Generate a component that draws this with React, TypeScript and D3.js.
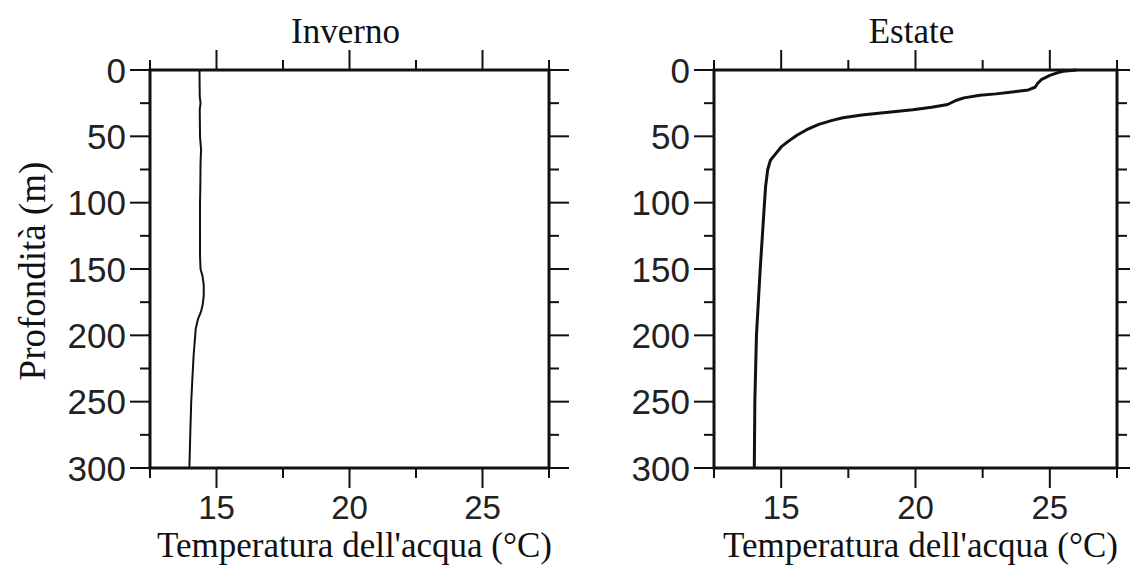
import React from "react";
import * as d3 from "d3";

// ── Data ──────────────────────────────────────────────────────────────────────

const winterDepth = [0, 20, 25, 30, 50, 60, 70, 90, 100, 120, 140, 150, 155, 162, 170, 177, 182, 188, 195, 205, 215, 230, 250, 270, 300];
const winterTemp = [14.36, 14.37, 14.4, 14.37, 14.38, 14.42, 14.4, 14.39, 14.38, 14.38, 14.38, 14.4, 14.47, 14.52, 14.52, 14.48, 14.42, 14.3, 14.22, 14.18, 14.14, 14.1, 14.05, 14.02, 13.98];

const summerDepth = [0, 1, 2, 4, 7, 10, 13, 15, 16.5, 18, 19, 21, 23, 26, 28, 30, 32, 34, 36, 38, 41, 45, 49, 54, 58, 63, 68, 75, 88, 100, 125, 150, 175, 200, 250, 300];
const summerTemp = [26.0, 25.5, 25.3, 25.0, 24.7, 24.55, 24.45, 24.2, 23.6, 23.0, 22.4, 21.8, 21.5, 21.2, 20.6, 19.9, 18.9, 18.0, 17.3, 16.9, 16.4, 15.95, 15.6, 15.25, 15.0, 14.8, 14.6, 14.5, 14.42, 14.38, 14.3, 14.22, 14.15, 14.08, 14.02, 14.0];

const panelTitles = ["Inverno", "Estate"];
const tempMajor = [15, 20, 25];
const tempMinor = [12.5, 17.5, 22.5, 27.5];
const depthMajor = [0, 50, 100, 150, 200, 250, 300];
const depthMinor = [25, 75, 125, 175, 225, 275];

// ── Layout ────────────────────────────────────────────────────────────────────

const W = 1130;
const H = 565;
const TOP = 70;
const BOTTOM = 468;
const PANELS = [
  { left: 150, right: 549 },
  { left: 714, right: 1117 },
];
const MAJOR = 20;
const MINOR = 10;
const SERIF = "'Liberation Serif', 'Times New Roman', serif";
const SANS = "'Liberation Sans', Arial, sans-serif";

type Pt = { d: number; t: number };

function Panel({
  left,
  right,
  title,
  points,
  showYTitle,
  lineWidth,
}: {
  left: number;
  right: number;
  title: string;
  points: Pt[];
  showYTitle: boolean;
  lineWidth: number;
}) {
  const x = d3.scaleLinear().domain([12.5, 27.5]).range([left, right]);
  const y = d3.scaleLinear().domain([0, 300]).range([TOP, BOTTOM]);
  const line = d3
    .line<Pt>()
    .x((p) => x(p.t))
    .y((p) => y(p.d))
    .curve(d3.curveLinear);
  const cx = (left + right) / 2;

  return (
    <g>
      {/* profile */}
      <path d={line(points) ?? ""} fill="none" stroke="#111" strokeWidth={lineWidth} strokeLinejoin="round" />

      {/* frame */}
      <rect x={left} y={TOP} width={right - left} height={BOTTOM - TOP} fill="none" stroke="#111" strokeWidth={3} />

      {/* x ticks top & bottom */}
      {tempMajor.map((v) => (
        <g key={"xM" + v}>
          <line x1={x(v)} x2={x(v)} y1={TOP} y2={TOP - MAJOR} stroke="#111" strokeWidth={2} />
          <line x1={x(v)} x2={x(v)} y1={BOTTOM} y2={BOTTOM + MAJOR} stroke="#111" strokeWidth={2} />
          <text x={x(v)} y={519} textAnchor="middle" fontFamily={SANS} fontSize={33} fill="#222">
            {v}
          </text>
        </g>
      ))}
      {tempMinor.map((v) => (
        <g key={"xm" + v}>
          <line x1={x(v)} x2={x(v)} y1={TOP} y2={TOP - MINOR} stroke="#111" strokeWidth={2} />
          <line x1={x(v)} x2={x(v)} y1={BOTTOM} y2={BOTTOM + MINOR} stroke="#111" strokeWidth={2} />
        </g>
      ))}

      {/* y ticks left & right */}
      {depthMajor.map((v) => (
        <g key={"yM" + v}>
          <line x1={left} x2={left - MAJOR} y1={y(v)} y2={y(v)} stroke="#111" strokeWidth={2} />
          <line x1={right} x2={right + MAJOR} y1={y(v)} y2={y(v)} stroke="#111" strokeWidth={2} />
          <text x={left - 24} y={y(v)} dy="0.36em" textAnchor="end" fontFamily={SANS} fontSize={35} fill="#222">
            {v}
          </text>
        </g>
      ))}
      {depthMinor.map((v) => (
        <g key={"ym" + v}>
          <line x1={left} x2={left - MINOR} y1={y(v)} y2={y(v)} stroke="#111" strokeWidth={2} />
          <line x1={right} x2={right + MINOR} y1={y(v)} y2={y(v)} stroke="#111" strokeWidth={2} />
        </g>
      ))}

      {/* titles */}
      <text x={cx - 4} y={43} textAnchor="middle" fontFamily={SERIF} fontSize={35} fill="#111">
        {title}
      </text>
      <text x={cx + 5} y={557} textAnchor="middle" fontFamily={SERIF} fontSize={35} fill="#111">
        Temperatura dell'acqua (°C)
      </text>
      {showYTitle && (
        <text
          transform={`translate(45,${(TOP + BOTTOM) / 2 + 2}) rotate(-90)`}
          textAnchor="middle"
          fontFamily={SERIF}
          fontSize={37}
          fill="#111"
        >
          Profondità (m)
        </text>
      )}
    </g>
  );
}

export default function App() {
  const winter: Pt[] = winterDepth.map((d, i) => ({ d, t: winterTemp[i] }));
  const summer: Pt[] = summerDepth.map((d, i) => ({ d, t: summerTemp[i] }));

  return (
    <div style={{ position: "absolute", left: 0, top: 0 }}>
      <svg width={W} height={H} style={{ display: "block", background: "#fff" }}>
        <Panel left={PANELS[0].left} right={PANELS[0].right} title={panelTitles[0]} points={winter} showYTitle lineWidth={2} />
        <Panel left={PANELS[1].left} right={PANELS[1].right} title={panelTitles[1]} points={summer} showYTitle={false} lineWidth={3} />
      </svg>
    </div>
  );
}
